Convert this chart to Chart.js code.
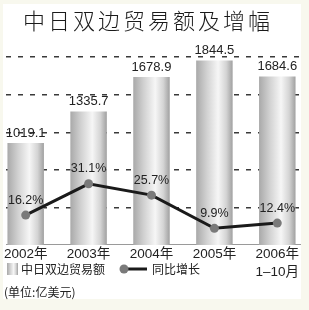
<!DOCTYPE html>
<html><head><meta charset="utf-8">
<script src="https://cdn.jsdelivr.net/npm/chart.js@4.4.0/dist/chart.umd.min.js"></script>
<style>html,body{margin:0;padding:0;background:#f8f8ee;overflow:hidden}#wrap{width:309px;height:310px;position:relative}canvas{display:block}</style>
</head><body><div id="wrap"><canvas id="c" width="309" height="310"></canvas></div>
<script>
const chartTitle = '中日双边贸易额及增幅';
const categories = [['2002年'], ['2003年'], ['2004年'], ['2005年'], ['2006年', '1–10月']];
const tradeValues = [1019.1, 1335.7, 1678.9, 1844.5, 1684.6];
const growthRates = [16.2, 31.1, 25.7, 9.9, 12.4];
const tradeLabel = '中日双边贸易额';
const growthLabel = '同比增长';
const unitNote = '(单位:亿美元)';
const gridSteps = [0, 1, 2, 3, 4, 5];

const FAMILY = "'Liberation Sans', 'Noto Sans CJK SC', sans-serif";
const CJK = "'Noto Sans CJK SC', sans-serif";

function barGradient(ctx2d, left, right) {
  const g = ctx2d.createLinearGradient(left, 0, right, 0);
  g.addColorStop(0, '#a8a8a8');
  g.addColorStop(0.3, '#d2d2d2');
  g.addColorStop(0.6, '#f6f6f6');
  g.addColorStop(0.82, '#d4d4d4');
  g.addColorStop(1, '#9e9e9e');
  return g;
}

const decor = {
  id: 'decor',
  beforeDraw(chart) {
    const c = chart.ctx;
    c.save();
    c.fillStyle = '#ffffff';
    c.fillRect(3, 4, 298, 295);
    c.restore();
  },
  afterDatasetsDraw(chart) {
    const c = chart.ctx;
    c.save();
    c.fillStyle = '#222';
    c.textAlign = 'center';
    c.textBaseline = 'middle';
    const barMeta = chart.getDatasetMeta(1);
    c.font = '13px ' + FAMILY;
    barMeta.data.forEach((el, i) => {
      c.fillText(tradeValues[i].toFixed(1), el.x, el.y - 10);
    });
    const lineMeta = chart.getDatasetMeta(0);
    c.font = '12.5px ' + FAMILY;
    lineMeta.data.forEach((el, i) => {
      c.fillText(growthRates[i].toFixed(1) + '%', el.x, el.y - 15);
    });
    c.restore();
  },
  afterDraw(chart) {
    const c = chart.ctx;
    c.save();
    // title
    c.fillStyle = '#1a1a1a';
    c.font = '300 22px ' + CJK;
    c.textBaseline = 'middle';
    c.textAlign = 'left';
    c.letterSpacing = '3px';
    c.fillText(chartTitle, 23, 21);
    c.letterSpacing = '0px';
    // legend
    const ly = 269;
    c.fillStyle = barGradient(c, 7, 18);
    c.fillRect(7, 263, 11, 12);
    c.fillStyle = '#222';
    c.font = '12px ' + CJK;
    c.fillText(chart.data.datasets[1].label, 21, ly);
    c.strokeStyle = '#1a1a1a';
    c.lineWidth = 3;
    c.beginPath();
    c.moveTo(124, ly);
    c.lineTo(147, ly);
    c.stroke();
    c.fillStyle = '#7a7a7a';
    c.beginPath();
    c.arc(124, ly, 4.5, 0, Math.PI * 2);
    c.fill();
    c.fillStyle = '#222';
    c.fillText(chart.data.datasets[0].label, 152, ly);
    // unit
    c.font = '12px ' + CJK;
    c.fillText(unitNote, 4, 292);
    c.restore();
  }
};

new Chart(document.getElementById('c'), {
  data: {
    datasets: [
      {
        type: 'line',
        label: growthLabel,
        data: growthRates.map((v, i) => ({ x: i, y: v })),
        yAxisID: 'yp',
        borderColor: '#1a1a1a',
        borderWidth: 3,
        pointRadius: 4.5,
        pointBackgroundColor: '#7a7a7a',
        pointBorderColor: '#7a7a7a',
        pointBorderWidth: 0,
        tension: 0,
        order: 0
      },
      {
        type: 'bar',
        label: tradeLabel,
        data: tradeValues.map((v, i) => ({ x: i, y: v })),
        yAxisID: 'y',
        barPercentage: 0.58,
        categoryPercentage: 1,
        backgroundColor: (ctx) => {
          const chart = ctx.chart;
          if (!chart.chartArea || ctx.type !== 'data') return '#cccccc';
          const cx = chart.scales.x.getPixelForValue(ctx.dataIndex);
          return barGradient(chart.ctx, cx - 18.5, cx + 18.5);
        },
        borderWidth: 0,
        order: 1
      }
    ]
  },
  options: {
    responsive: false,
    animation: false,
    devicePixelRatio: 1,
    layout: { padding: { left: 6, right: 9, top: 45, bottom: 28 } },
    plugins: { legend: { display: false }, title: { display: false }, tooltip: { enabled: false } },
    scales: {
      x: {
        type: 'linear',
        min: -0.313,
        max: 4.361,
        offset: false,
        afterBuildTicks: (s) => { s.ticks = categories.map((_, i) => ({ value: i })); },
        grid: { display: false, drawTicks: false },
        border: { display: true, color: '#9a9a9a', width: 1 },
        ticks: {
          autoSkip: false,
          maxRotation: 0,
          padding: 1,
          color: '#222',
          font: { size: 13.5, family: FAMILY, lineHeight: 1.3 },
          callback: (v) => categories[v]
        }
      },
      y: { type: 'linear', min: 0, max: 2000, display: false },
      yp: { type: 'linear', min: 2, max: 97.2, display: false },
      yg: {
        type: 'linear',
        position: 'left',
        min: 0,
        max: 5.324,
        afterBuildTicks: (s) => { s.ticks = gridSteps.map(v => ({ value: v })); },
        ticks: { display: false },
        grid: {
          drawTicks: false,
          lineWidth: 1.5,
          color: (ctx) => (ctx.tick && ctx.tick.value === 0) ? 'rgba(0,0,0,0)' : '#3a3a3a'
        },
        border: { display: false, dash: [5, 7] }
      }
    }
  },
  plugins: [decor]
});
</script>
</body></html>
